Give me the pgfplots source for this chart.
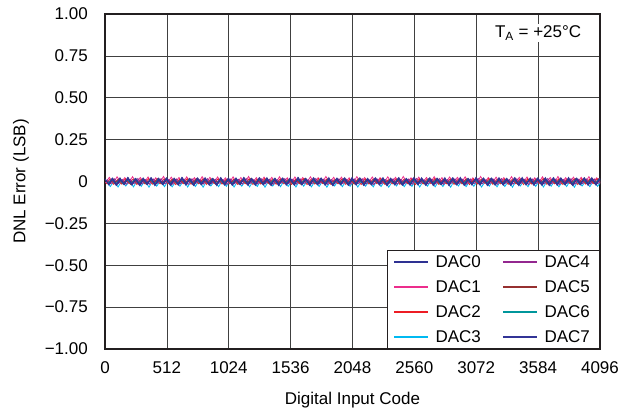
\documentclass[border=0pt]{standalone}
\usepackage{fontspec}
\setmainfont{Liberation Sans}
\usepackage{pgfplots}
\pgfplotsset{compat=1.18}
\usepackage{pgfplotstable}

\definecolor{dac0}{RGB}{46,49,146}
\definecolor{dac1}{RGB}{236,45,140}
\definecolor{dac2}{RGB}{237,28,36}
\definecolor{dac3}{RGB}{0,185,241}
\definecolor{dac4}{RGB}{147,39,143}
\definecolor{dac5}{RGB}{150,48,48}
\definecolor{dac6}{RGB}{0,150,155}
\definecolor{dac7}{RGB}{50,52,150}
\definecolor{frame}{RGB}{35,31,32}

\pgfplotstableread{
x d0 d1 d2 d3 d4 d5 d6 d7
0 0.015 -0.008 -0.014 0.005 0.013 -0.015 -0.012 -0.019
32 -0.019 0.025 0.013 -0.030 -0.014 0.012 0.015 0.017
64 0.018 -0.010 -0.017 0.004 0.016 -0.011 -0.014 -0.021
96 -0.021 0.028 0.011 -0.033 -0.012 0.016 0.013 0.020
128 0.013 -0.007 -0.015 0.006 0.012 -0.014 -0.016 -0.016
160 -0.017 0.023 0.016 -0.027 -0.017 0.013 0.011 0.022
192 0.020 -0.009 -0.012 0.003 0.014 -0.017 -0.013 -0.018
224 -0.018 0.029 0.014 -0.032 -0.013 0.011 0.017 0.016
256 0.016 -0.011 -0.018 0.007 0.018 -0.013 -0.011 -0.020
288 -0.022 0.024 0.012 -0.029 -0.015 0.015 0.014 0.019
320 0.014 -0.008 -0.013 0.005 0.011 -0.016 -0.015 -0.017
352 -0.016 0.027 0.017 -0.034 -0.016 0.012 0.012 0.021
384 0.019 -0.010 -0.016 0.004 0.015 -0.012 -0.017 -0.022
416 -0.020 0.022 0.011 -0.028 -0.011 0.017 0.016 0.018
448 0.012 -0.007 -0.014 0.006 0.017 -0.014 -0.013 -0.015
480 -0.018 0.030 0.015 -0.031 -0.014 0.014 0.013 0.020
512 0.017 -0.009 -0.015 0.005 0.012 -0.013 -0.014 -0.020
544 -0.021 0.026 0.012 -0.032 -0.016 0.015 0.012 0.018
576 0.015 -0.008 -0.018 0.003 0.015 -0.016 -0.012 -0.017
608 -0.019 0.024 0.014 -0.028 -0.013 0.012 0.016 0.022
640 0.021 -0.011 -0.013 0.007 0.013 -0.011 -0.015 -0.019
672 -0.016 0.028 0.017 -0.033 -0.018 0.014 0.013 0.016
704 0.014 -0.007 -0.016 0.004 0.016 -0.015 -0.017 -0.021
736 -0.022 0.023 0.011 -0.030 -0.012 0.017 0.011 0.019
768 0.018 -0.010 -0.014 0.006 0.011 -0.012 -0.013 -0.018
800 -0.017 0.029 0.015 -0.034 -0.015 0.013 0.015 0.021
832 0.016 -0.009 -0.017 0.005 0.017 -0.014 -0.011 -0.016
864 -0.020 0.025 0.013 -0.027 -0.014 0.016 0.017 0.017
896 0.013 -0.008 -0.012 0.003 0.014 -0.017 -0.016 -0.022
928 -0.018 0.027 0.016 -0.031 -0.011 0.011 0.014 0.020
960 0.020 -0.010 -0.015 0.007 0.012 -0.013 -0.014 -0.019
992 -0.019 0.022 0.012 -0.029 -0.017 0.015 0.012 0.018
1024 0.016 -0.008 -0.014 0.005 0.015 -0.012 -0.013 -0.020
1056 -0.020 0.028 0.014 -0.033 -0.013 0.014 0.016 0.019
1088 0.014 -0.011 -0.017 0.004 0.013 -0.016 -0.015 -0.016
1120 -0.017 0.024 0.011 -0.028 -0.016 0.012 0.013 0.022
1152 0.019 -0.007 -0.013 0.006 0.018 -0.015 -0.012 -0.018
1184 -0.021 0.030 0.016 -0.032 -0.012 0.017 0.011 0.017
1216 0.015 -0.009 -0.018 0.003 0.011 -0.011 -0.017 -0.021
1248 -0.016 0.023 0.013 -0.030 -0.015 0.013 0.015 0.020
1280 0.020 -0.010 -0.015 0.007 0.016 -0.014 -0.014 -0.017
1312 -0.018 0.026 0.017 -0.034 -0.014 0.016 0.014 0.021
1344 0.013 -0.008 -0.012 0.005 0.014 -0.017 -0.011 -0.019
1376 -0.022 0.025 0.012 -0.027 -0.017 0.011 0.017 0.016
1408 0.017 -0.011 -0.016 0.004 0.012 -0.013 -0.016 -0.022
1440 -0.019 0.029 0.015 -0.031 -0.011 0.015 0.012 0.018
1472 0.018 -0.009 -0.014 0.006 0.017 -0.012 -0.013 -0.020
1504 -0.017 0.022 0.011 -0.029 -0.013 0.014 0.016 0.019
1536 0.015 -0.007 -0.017 0.003 0.013 -0.015 -0.015 -0.017
1568 -0.020 0.027 0.014 -0.033 -0.016 0.013 0.013 0.022
1600 0.021 -0.010 -0.013 0.007 0.015 -0.016 -0.012 -0.018
1632 -0.016 0.024 0.016 -0.028 -0.012 0.017 0.015 0.017
1664 0.014 -0.008 -0.018 0.005 0.011 -0.011 -0.017 -0.021
1696 -0.021 0.028 0.012 -0.032 -0.015 0.012 0.011 0.020
1728 0.019 -0.011 -0.015 0.004 0.018 -0.014 -0.014 -0.016
1760 -0.018 0.023 0.017 -0.030 -0.014 0.015 0.017 0.019
1792 0.016 -0.009 -0.012 0.006 0.014 -0.013 -0.011 -0.019
1824 -0.019 0.030 0.013 -0.034 -0.017 0.016 0.014 0.021
1856 0.013 -0.007 -0.016 0.003 0.012 -0.017 -0.016 -0.022
1888 -0.022 0.025 0.011 -0.027 -0.011 0.011 0.012 0.016
1920 0.018 -0.010 -0.014 0.007 0.016 -0.012 -0.013 -0.018
1952 -0.017 0.026 0.015 -0.031 -0.013 0.014 0.016 0.018
1984 0.020 -0.008 -0.017 0.005 0.013 -0.015 -0.015 -0.020
2016 -0.020 0.022 0.014 -0.029 -0.016 0.013 0.013 0.022
2048 0.015 -0.009 -0.013 0.004 0.015 -0.016 -0.012 -0.017
2080 -0.018 0.029 0.012 -0.033 -0.012 0.017 0.015 0.019
2112 0.017 -0.011 -0.018 0.006 0.017 -0.011 -0.017 -0.021
2144 -0.021 0.024 0.016 -0.028 -0.015 0.012 0.011 0.017
2176 0.014 -0.007 -0.015 0.003 0.011 -0.014 -0.014 -0.019
2208 -0.016 0.027 0.013 -0.032 -0.018 0.015 0.017 0.020
2240 0.019 -0.010 -0.012 0.007 0.014 -0.013 -0.011 -0.016
2272 -0.019 0.023 0.017 -0.030 -0.014 0.016 0.014 0.021
2304 0.016 -0.008 -0.016 0.005 0.012 -0.017 -0.016 -0.022
2336 -0.022 0.028 0.011 -0.034 -0.011 0.011 0.012 0.018
2368 0.013 -0.009 -0.014 0.004 0.016 -0.012 -0.013 -0.018
2400 -0.017 0.025 0.015 -0.027 -0.017 0.014 0.016 0.019
2432 0.021 -0.011 -0.017 0.006 0.013 -0.015 -0.015 -0.020
2464 -0.020 0.030 0.012 -0.031 -0.013 0.013 0.013 0.016
2496 0.015 -0.007 -0.013 0.003 0.015 -0.016 -0.012 -0.021
2528 -0.018 0.022 0.014 -0.029 -0.016 0.017 0.015 0.022
2560 0.018 -0.010 -0.018 0.007 0.018 -0.011 -0.017 -0.017
2592 -0.016 0.026 0.016 -0.033 -0.012 0.012 0.011 0.020
2624 0.014 -0.008 -0.015 0.005 0.011 -0.014 -0.014 -0.019
2656 -0.021 0.024 0.013 -0.028 -0.015 0.015 0.017 0.017
2688 0.020 -0.009 -0.012 0.004 0.014 -0.013 -0.011 -0.022
2720 -0.019 0.029 0.017 -0.032 -0.014 0.016 0.014 0.018
2752 0.016 -0.011 -0.016 0.006 0.017 -0.017 -0.016 -0.016
2784 -0.017 0.023 0.011 -0.030 -0.017 0.011 0.012 0.021
2816 0.013 -0.007 -0.014 0.003 0.012 -0.012 -0.013 -0.020
2848 -0.022 0.027 0.015 -0.034 -0.011 0.014 0.016 0.019
2880 0.019 -0.010 -0.017 0.007 0.016 -0.015 -0.015 -0.018
2912 -0.018 0.025 0.012 -0.027 -0.013 0.013 0.013 0.022
2944 0.017 -0.008 -0.013 0.005 0.013 -0.016 -0.012 -0.021
2976 -0.020 0.028 0.014 -0.031 -0.016 0.017 0.015 0.016
3008 0.015 -0.009 -0.018 0.004 0.015 -0.011 -0.017 -0.019
3040 -0.016 0.022 0.016 -0.029 -0.012 0.012 0.011 0.020
3072 0.021 -0.011 -0.015 0.006 0.018 -0.014 -0.014 -0.017
3104 -0.019 0.030 0.013 -0.033 -0.015 0.015 0.017 0.019
3136 0.014 -0.007 -0.012 0.003 0.011 -0.013 -0.011 -0.022
3168 -0.021 0.024 0.017 -0.028 -0.014 0.016 0.014 0.018
3200 0.018 -0.010 -0.016 0.007 0.014 -0.017 -0.016 -0.020
3232 -0.017 0.026 0.011 -0.032 -0.017 0.011 0.012 0.021
3264 0.016 -0.008 -0.014 0.005 0.017 -0.012 -0.013 -0.016
3296 -0.020 0.023 0.015 -0.030 -0.011 0.014 0.016 0.017
3328 0.013 -0.009 -0.017 0.004 0.012 -0.015 -0.015 -0.021
3360 -0.018 0.029 0.012 -0.034 -0.016 0.013 0.013 0.020
3392 0.020 -0.011 -0.013 0.006 0.016 -0.016 -0.012 -0.018
3424 -0.022 0.025 0.014 -0.027 -0.013 0.017 0.015 0.022
3456 0.015 -0.007 -0.018 0.003 0.013 -0.011 -0.017 -0.019
3488 -0.016 0.027 0.016 -0.031 -0.018 0.012 0.011 0.016
3520 0.019 -0.010 -0.015 0.007 0.015 -0.014 -0.014 -0.020
3552 -0.019 0.022 0.013 -0.029 -0.012 0.015 0.017 0.019
3584 0.017 -0.008 -0.012 0.005 0.011 -0.013 -0.011 -0.017
3616 -0.021 0.028 0.017 -0.033 -0.015 0.016 0.014 0.021
3648 0.014 -0.009 -0.016 0.004 0.018 -0.017 -0.016 -0.022
3680 -0.017 0.024 0.011 -0.028 -0.014 0.011 0.012 0.018
3712 0.021 -0.011 -0.014 0.006 0.014 -0.012 -0.013 -0.019
3744 -0.020 0.030 0.015 -0.032 -0.017 0.014 0.016 0.020
3776 0.016 -0.007 -0.017 0.003 0.012 -0.015 -0.015 -0.016
3808 -0.018 0.023 0.012 -0.030 -0.011 0.013 0.013 0.022
3840 0.013 -0.010 -0.013 0.007 0.017 -0.016 -0.012 -0.021
3872 -0.022 0.026 0.014 -0.034 -0.016 0.017 0.015 0.017
3904 0.018 -0.008 -0.018 0.005 0.013 -0.011 -0.017 -0.018
3936 -0.016 0.025 0.016 -0.027 -0.013 0.012 0.011 0.019
3968 0.020 -0.009 -0.015 0.004 0.015 -0.014 -0.014 -0.020
4000 -0.019 0.029 0.013 -0.031 -0.015 0.015 0.017 0.021
4032 0.015 -0.011 -0.012 0.006 0.016 -0.013 -0.011 -0.017
4064 -0.020 0.022 0.017 -0.029 -0.012 0.016 0.014 0.016
4096 0.017 -0.008 -0.016 0.003 0.011 -0.017 -0.016 -0.019
}\dnl

\begin{document}
\begin{tikzpicture}[font=\fontsize{17}{20}\selectfont]
\begin{axis}[
  scale only axis,
  width=495pt, height=335pt,
  xmin=0, xmax=4096, ymin=-1, ymax=1,
  xtick={0,512,1024,1536,2048,2560,3072,3584,4096},
  xticklabels={0,512,1024,1536,2048,2560,3072,3584,4096},
  ytick={-1,-0.75,-0.5,-0.25,0,0.25,0.5,0.75,1},
  yticklabels={−1.00,−0.75,−0.50,−0.25,0,0.25,0.50,0.75,1.00},
  major tick length=0pt,
  grid=major,
  major grid style={black!75, line width=0.5pt},
  axis line style={frame, line width=1.5pt},
  xticklabel style={anchor=center, yshift=-19pt},
  yticklabel style={anchor=east, inner sep=0pt, xshift=-17pt},
  xlabel={Digital Input Code},
  ylabel={DNL Error (LSB)},
  xlabel style={at={(axis description cs:0.5,0)}, anchor=center, yshift=-51pt},
  ylabel style={at={(axis description cs:0,0.5)}, anchor=center, yshift=84pt},
  legend columns=2,
  legend cell align=left,
  legend image code/.code={\draw[#1] (0pt,0pt) -- (34pt,0pt); \path (37pt,0pt);},
  legend style={at={(1,0)}, anchor=south east, draw=frame, line width=1.2pt,
    fill=white, inner xsep=6pt, inner ysep=2pt, row sep=6pt,
    nodes={inner sep=3.5pt, text height=12pt, text depth=0pt},
    /tikz/every even column/.append style={column sep=18pt}},
]
\addplot[dac1, line width=0.8pt, forget plot] table[x expr=\thisrow{x}+4, y=d1] {\dnl};
\addplot[dac3, line width=0.8pt, forget plot] table[x expr=\thisrow{x}+12, y=d3] {\dnl};
\addplot[dac2, line width=0.8pt, forget plot] table[x expr=\thisrow{x}+8, y=d2] {\dnl};
\addplot[dac4, line width=0.8pt, forget plot] table[x expr=\thisrow{x}+16, y=d4] {\dnl};
\addplot[dac5, line width=0.8pt, forget plot] table[x expr=\thisrow{x}+20, y=d5] {\dnl};
\addplot[dac6, line width=0.8pt, forget plot] table[x expr=\thisrow{x}+24, y=d6] {\dnl};
\addplot[dac0, line width=1.2pt, forget plot] table[x expr=\thisrow{x}, y=d0] {\dnl};
\addplot[dac7, line width=1.2pt, forget plot] table[x expr=\thisrow{x}+28, y=d7] {\dnl};
\addlegendimage{color=dac0, line width=1.6pt}\addlegendentry{DAC0}
\addlegendimage{color=dac4, line width=1.6pt}\addlegendentry{DAC4}
\addlegendimage{color=dac1, line width=1.6pt}\addlegendentry{DAC1}
\addlegendimage{color=dac5, line width=1.6pt}\addlegendentry{DAC5}
\addlegendimage{color=dac2, line width=1.6pt}\addlegendentry{DAC2}
\addlegendimage{color=dac6, line width=1.6pt}\addlegendentry{DAC6}
\addlegendimage{color=dac3, line width=1.6pt}\addlegendentry{DAC3}
\addlegendimage{color=dac7, line width=1.6pt}\addlegendentry{DAC7}
\node[fill=white, inner sep=2pt] at (axis cs:3584,0.885) {T\textsubscript{A} = +25°C};
\end{axis}
\pgfresetboundingbox
\path ([shift={(-105pt,-66pt)}]current axis.south west) rectangle ++(633pt,415pt);
\end{tikzpicture}
\end{document}
